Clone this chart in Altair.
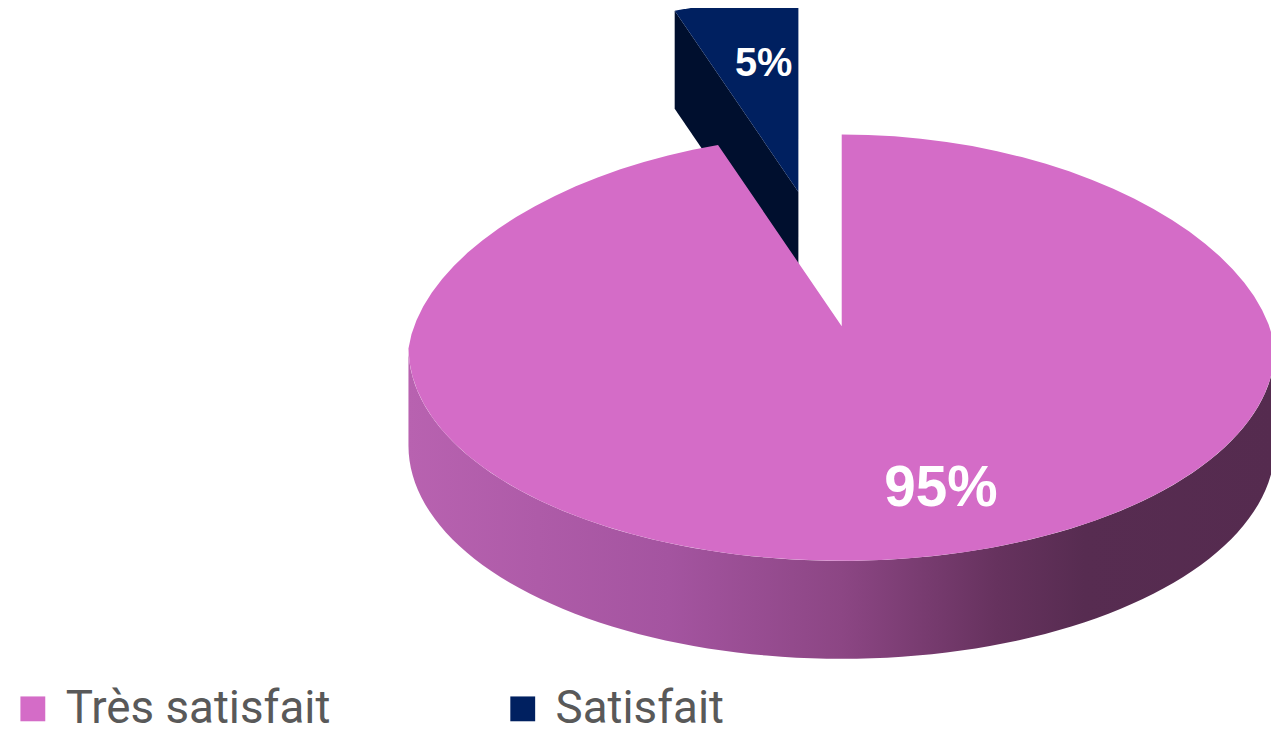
import altair as alt
import pandas as pd

# ---- data ----
categories = ["Très satisfait", "Satisfait"]
values = [95, 5]
colors = ["#D46CC7", "#002060"]

df = pd.DataFrame({"cat": categories, "val": values, "idx": list(range(len(categories)))})

# ---- style / geometry parameters (3D look) ----
EXPLODE = 1            # index of exploded slice
EX, EY = -0.1, 0.63    # explode offset (data units)
CY0 = 0.1              # apex shift (perspective)
PERSP = 0.08           # narrowing of the far half (perspective)
DEPTH = 0.46           # thickness of the pie
N = 90

xs = alt.Scale(domain=[-1, 1], range=[403, 1275], nice=False, zero=False)
ys = alt.Scale(domain=[-1, 1], range=[554, 125], nice=False, zero=False)
cscale = alt.Scale(domain=categories, range=colors)

legend = alt.Legend(
    title=None, orient="none", legendX=2, legendY=680, direction="horizontal",
    symbolType="square", symbolSize=625, symbolStrokeWidth=0, symbolOpacity=1,
    labelFont="Roboto", labelFontSize=46, labelColor="#595959", labelOffset=10,
    columnPadding=170, padding=0, labelLimit=500,
)

base = alt.Chart(df).transform_window(
    cum="sum(val)", sort=[alt.SortField("idx")], frame=[None, 0]
).transform_joinaggregate(total="sum(val)").transform_calculate(
    a0="2*PI*(datum.cum-datum.val)/datum.total",
    a1="2*PI*datum.cum/datum.total",
    ex=f"datum.idx=={EXPLODE} ? {EX} : 0",
    ey=f"datum.idx=={EXPLODE} ? {EY} : 0",
)

X = alt.X("px:Q", scale=xs, axis=None)
Y = alt.Y("py:Q", scale=ys, axis=None)

RIMX = "sin({t}) * (1 - {p} * max(cos({t}), 0))"


def rimx(t):
    return RIMX.format(t=t, p=PERSP)


def top_face(flt):
    return base.transform_filter(flt).transform_calculate(
        k=f"sequence(-1, {N + 1})"
    ).transform_flatten(["k"]).transform_calculate(
        t=f"datum.a0 + (datum.a1 - datum.a0) * max(datum.k, 0) / {N}",
    ).transform_calculate(
        px=f"datum.ex + (datum.k < 0 ? 0 : {rimx('datum.t')})",
        py=f"datum.ey + (datum.k < 0 ? {CY0} : cos(datum.t))",
    ).mark_line(filled=True, strokeWidth=0, interpolate="linear").encode(
        x=X, y=Y,
        color=alt.Color("cat:N", scale=cscale, legend=legend),
        order="k:Q",
    )


side_gradient = alt.LinearGradient(
    gradient="linear", x1=0, x2=1, y1=0, y2=0,
    stops=[
        alt.GradientStop(color="#B862B0", offset=0),
        alt.GradientStop(color="#A454A0", offset=0.3),
        alt.GradientStop(color="#8C4684", offset=0.5),
        alt.GradientStop(color="#66325E", offset=0.68),
        alt.GradientStop(color="#572C51", offset=0.78),
        alt.GradientStop(color="#552B4F", offset=1),
    ],
)

side = base.transform_filter(f"datum.idx != {EXPLODE}").transform_calculate(
    s0="max(datum.a0, PI/2)", s1="min(datum.a1, 3*PI/2)"
).transform_filter("datum.s1 > datum.s0").transform_calculate(
    k=f"sequence(0, {N + 1})"
).transform_flatten(["k"]).transform_calculate(
    t=f"datum.s0 + (datum.s1 - datum.s0) * datum.k / {N}",
).transform_calculate(
    px=f"datum.ex + {rimx('datum.t')}",
    py="datum.ey + cos(datum.t)",
    py2=f"datum.ey + cos(datum.t) - {DEPTH}",
).mark_area(color=side_gradient).encode(x=X, y=Y, y2="py2:Q")

cut = base.transform_filter(f"datum.idx == {EXPLODE}").transform_calculate(
    k="[0, 1]"
).transform_flatten(["k"]).transform_calculate(
    px=f"datum.ex + datum.k * ({rimx('datum.a0')})",
    py=f"datum.ey + (datum.k == 0 ? {CY0} : cos(datum.a0))",
    py2=f"datum.ey + (datum.k == 0 ? {CY0} : cos(datum.a0)) - {DEPTH}",
).mark_area(color="#000F2E").encode(x=X, y=Y, y2="py2:Q")

lab = base.transform_calculate(
    mid="(datum.a0 + datum.a1) / 2",
    label="format(datum.val / datum.total, '.0%')",
)


def label_layer(flt, r, dx, dy, size):
    return lab.transform_filter(flt).transform_calculate(
        px=f"datum.ex + {r} * sin(datum.mid)",
        py=f"datum.ey + {CY0} + {r} * cos(datum.mid)",
    ).mark_text(
        font="Liberation Sans", fontWeight="bold", fontSize=size, color="white",
        align="center", baseline="middle", dx=dx, dy=dy,
    ).encode(x=X, y=Y, text="label:N")


chart = alt.layer(
    cut,
    top_face(f"datum.idx == {EXPLODE}"),
    side,
    top_face(f"datum.idx != {EXPLODE}"),
    label_layer(f"datum.idx != {EXPLODE}", 0.7, 52, 16, 57),
    label_layer(f"datum.idx == {EXPLODE}", 0.6, 6, -2, 40),
).properties(
    width=1271, height=725, padding=0, autosize=alt.AutoSizeParams(type="none"),
    background="white",
).configure_view(stroke=None)

chart.save("out.html", embed_options={"renderer": "svg", "actions": False})
